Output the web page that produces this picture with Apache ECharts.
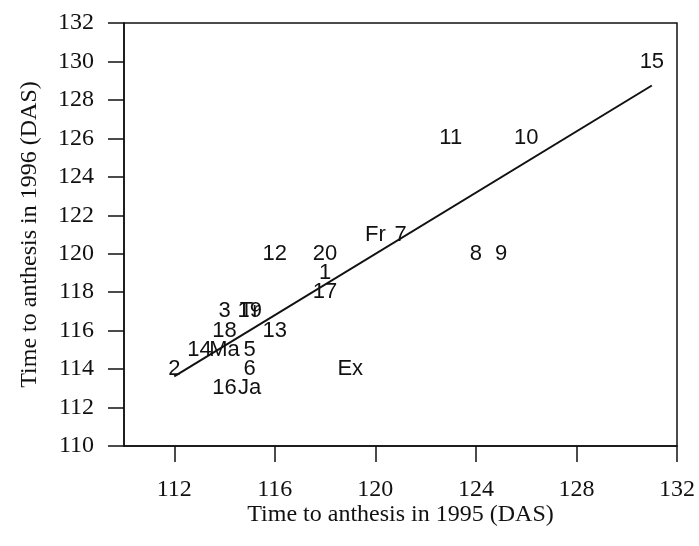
<!DOCTYPE html>
<html>
<head>
<meta charset="utf-8">
<script src="https://cdn.jsdelivr.net/npm/echarts@6/dist/echarts.min.js"></script>
<style>html,body{margin:0;padding:0;background:#fff;}#chart{width:699px;height:546px;}</style>
</head>
<body>
<div id="chart"></div>
<script>
// Genotype labels and their anthesis times (DAS)
var labels = ['15','11','10','Fr','7','8','9','12','20','1','17','3','19','Tr','18','13','14','Ma','5','2','6','Ex','16','Ja'];
var x1995  = [131, 123, 126, 120, 121, 124, 125, 116, 118, 118, 118, 114, 115, 115, 114, 116, 113, 114, 115, 112, 115, 119, 114, 115];
var y1996  = [130, 126, 126, 121, 121, 120, 120, 120, 120, 119, 118, 117, 117, 117, 116, 116, 115, 115, 115, 114, 114, 114, 113, 113];
// Regression line end points
var fitX = [112, 131];
var fitY = [113.62, 128.75];
var xTicks = [112, 116, 120, 124, 128, 132];

var pts = labels.map(function (n, i) { return { name: n, value: [x1995[i], y1996[i]] }; });
var fit = fitX.map(function (x, i) { return [x, fitY[i]]; });

var chart = echarts.init(document.getElementById('chart'));
var ink = '#111';
chart.setOption({
  animation: false,
  backgroundColor: '#fff',
  grid: { left: 124, right: 22, top: 23, bottom: 100, show: true, borderColor: ink, borderWidth: 1.5, backgroundColor: 'transparent' },
  xAxis: {
    type: 'value', min: 110, max: 132,
    name: 'Time to anthesis in 1995 (DAS)', nameLocation: 'middle', nameGap: 57, nameMoveOverlap: false,
    nameTextStyle: { fontFamily: 'Liberation Serif', fontSize: 24, color: ink },
    axisLine: { show: true, onZero: false, lineStyle: { color: ink, width: 1.5 } },
    axisTick: { show: true, length: 16, customValues: xTicks, lineStyle: { color: ink, width: 1.5 } },
    axisLabel: { customValues: xTicks, margin: 32, fontFamily: 'Liberation Serif', fontSize: 24, color: ink },
    splitLine: { show: false }
  },
  yAxis: {
    type: 'value', min: 110, max: 132, interval: 2,
    name: 'Time to anthesis in 1996 (DAS)', nameLocation: 'middle', nameGap: 82, nameMoveOverlap: false,
    nameTextStyle: { fontFamily: 'Liberation Serif', fontSize: 24, color: ink },
    axisLine: { show: true, onZero: false, lineStyle: { color: ink, width: 1.5 } },
    axisTick: { show: true, length: 16, lineStyle: { color: ink, width: 1.5 } },
    axisLabel: { margin: 30, fontFamily: 'Liberation Serif', fontSize: 24, color: ink },
    splitLine: { show: false }
  },
  series: [
    {
      type: 'line', data: fit, symbol: 'none', silent: true,
      lineStyle: { color: ink, width: 2 }
    },
    {
      type: 'scatter', data: pts, symbolSize: 0, silent: true,
      itemStyle: { opacity: 1 },
      label: {
        show: true, position: 'inside', formatter: '{b}', opacity: 1,
        fontFamily: 'Liberation Sans', fontSize: 22, color: ink
      },
      labelLayout: { hideOverlap: false }
    }
  ]
});
</script>
</body>
</html>
